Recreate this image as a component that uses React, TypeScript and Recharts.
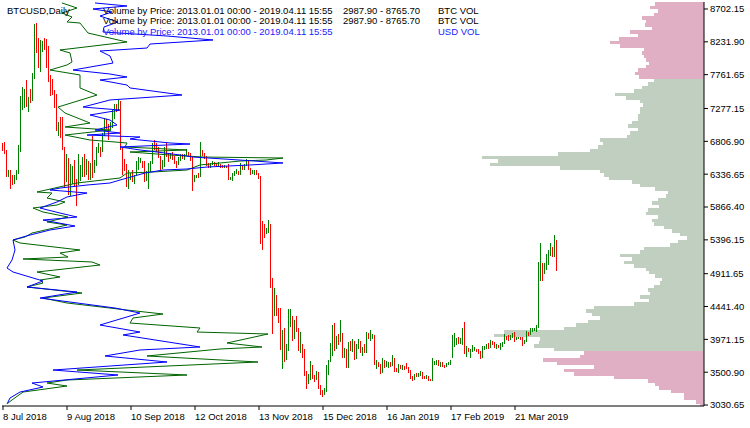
import { Bar, Cell, ComposedChart, ReferenceArea, Scatter, XAxis, YAxis } from 'recharts'

// day 0 = 8 Jul 2018, one bar per calendar day up to 11 Apr 2019
const dateTicks = [0, 32, 64, 96, 128, 160, 192, 224, 256]
const dateLabels = [
  '8 Jul 2018', '9 Aug 2018', '10 Sep 2018', '12 Oct 2018', '13 Nov 2018',
  '15 Dec 2018', '16 Jan 2019', '17 Feb 2019', '21 Mar 2019',
]
const priceTicks = [
  3030.65, 3500.9, 3971.15, 4441.4, 4911.65, 5396.15, 5866.4,
  6336.65, 6806.9, 7277.15, 7761.65, 8231.9, 8702.15,
]

const highs = [
  // Jul
  6790, 6800, 6680, 6400, 6390, 6330, 6320, 6400, 6750, 7450, 7580, 7550, 7680, 7440, 7560, 7780, 8480, 8500, 8290, 8260, 8240, 8290, 8270, 8170,
  // Aug
  7760, 7700, 7540, 7490, 7080, 7160, 7150, 6720, 6630, 6570, 6480, 6460, 6540, 6270, 6620, 6470, 6580, 6620, 6560, 6530, 6490, 6890, 6540, 6720, 6790, 6730, 6930, 7140, 7130, 7060, 7080,
  // Sep
  7260, 7340, 7340, 7400, 7390, 6710, 6550, 6480, 6400, 6360, 6400, 6330, 6530, 6580, 6570, 6530, 6530, 6380, 6500, 6530, 6790, 6830, 6780, 6720, 6590, 6540, 6720, 6780, 6640, 6640,
  // Oct
  6660, 6600, 6530, 6580, 6630, 6620, 6620, 6700, 6660, 6640, 6580, 6330, 6330, 6360, 6800, 6680, 6640, 6600, 6500, 6500, 6530, 6510, 6490, 6510, 6480, 6470, 6470, 6460, 6480, 6300, 6350,
  // Nov
  6380, 6410, 6380, 6490, 6470, 6480, 6560, 6540, 6420, 6400, 6400, 6400, 6360, 6310, 5660, 5620, 5560, 5680, 5620, 4850, 4700, 4610, 4420, 4420, 4100, 4140, 3900, 4400, 4400, 4300,
  // Dec
  4250, 4300, 4140, 4070, 3900, 3840, 3520, 3480, 3660, 3600, 3460, 3520, 3500, 3320, 3240, 3280, 3600, 3680, 3920, 4180, 4200, 4020, 4050, 4250, 4060, 3850, 3830, 3930, 3950, 3970, 3950,
  // Jan
  3900, 3980, 3950, 3860, 3900, 4080, 4060, 4110, 4050, 4040, 3680, 3650, 3620, 3700, 3680, 3660, 3650, 3650, 3750, 3700, 3560, 3620, 3600, 3600, 3590, 3630, 3580, 3530, 3440, 3480, 3490,
  // Feb
  3490, 3520, 3500, 3440, 3460, 3450, 3410, 3700, 3660, 3680, 3670, 3640, 3640, 3610, 3630, 3650, 3680, 4030, 4060, 3990, 4000, 3990, 4140, 4220, 3880, 3850, 3830, 3890,
  // Mar
  3860, 3840, 3830, 3800, 3880, 3880, 3900, 3920, 3960, 3950, 3930, 3900, 3890, 3920, 3930, 4050, 4020, 4040, 4040, 4060, 4070, 4010, 4010, 4010, 4000, 3960, 4090, 4080, 4140, 4140, 4130,
  // Apr
  4170, 5080, 5350, 5060, 5070, 5200, 5250, 5350, 5300, 5470, 5400,
]

const lows = [
  6670, 6630, 6300, 6290, 6130, 6180, 6200, 6250, 6340, 6660, 7250, 7290, 7300, 7220, 7350, 7380, 7700, 8070, 7850, 7800, 8080, 8110, 7860, 7650,
  7460, 7470, 7290, 6950, 6890, 6860, 6680, 6150, 6230, 6040, 6030, 6200, 6150, 5880, 6180, 6240, 6290, 6300, 6330, 6250, 6250, 6280, 6360, 6460, 6640, 6580, 6660, 6890, 6990, 6830, 6960,
  7000, 7130, 7220, 7240, 6680, 6330, 6380, 6160, 6130, 6250, 6220, 6200, 6320, 6400, 6490, 6430, 6230, 6240, 6120, 6370, 6480, 6680, 6660, 6570, 6390, 6410, 6440, 6580, 6510, 6560,
  6540, 6480, 6430, 6470, 6530, 6550, 6540, 6590, 6600, 6520, 6100, 6220, 6280, 6280, 6290, 6600, 6560, 6460, 6430, 6430, 6470, 6450, 6440, 6450, 6430, 6420, 6430, 6430, 6250, 6250, 6240,
  6310, 6340, 6330, 6320, 6390, 6400, 6460, 6390, 6320, 6340, 6320, 6330, 6270, 5330, 5250, 5420, 5480, 5500, 4700, 4050, 4300, 4310, 4200, 3820, 3550, 3650, 3680, 3800, 4150, 3950,
  3980, 4080, 3800, 3780, 3700, 3440, 3260, 3330, 3390, 3400, 3360, 3390, 3260, 3180, 3150, 3180, 3220, 3460, 3640, 3740, 3800, 3830, 3890, 3940, 3700, 3700, 3560, 3560, 3800, 3790, 3680,
  3690, 3840, 3770, 3740, 3780, 3770, 3970, 3950, 3970, 3600, 3550, 3570, 3480, 3490, 3560, 3570, 3560, 3580, 3590, 3500, 3510, 3490, 3540, 3530, 3530, 3550, 3490, 3400, 3370, 3390, 3430,
  3430, 3450, 3410, 3400, 3410, 3380, 3370, 3370, 3610, 3600, 3590, 3570, 3580, 3560, 3580, 3600, 3600, 3700, 3860, 3890, 3900, 3910, 3890, 3760, 3720, 3790, 3700, 3790,
  3810, 3790, 3760, 3690, 3700, 3820, 3840, 3830, 3850, 3890, 3850, 3830, 3850, 3820, 3860, 3900, 3960, 3950, 3960, 3990, 3940, 3960, 3970, 3960, 3880, 3900, 3930, 4020, 4030, 4070, 4090,
  4080, 4130, 4800, 4800, 4900, 4960, 5030, 5160, 5150, 5150, 4950,
]

// 1 = close above open (green bar), 0 = down day (red bar)
const upDays = [
  0, 0, 0, 1, 0, 0, 1, 1, 1, 1, 1, 1, 0, 1, 0, 1, 1, 0, 0, 1, 1, 0, 0, 0,
  0, 0, 0, 0, 1, 0, 0, 0, 1, 0, 1, 1, 0, 0, 1, 1, 1, 0, 1, 0, 1, 0, 1, 1, 1, 0, 1, 1, 0, 0, 1,
  1, 1, 0, 1, 0, 0, 0, 0, 1, 1, 0, 1, 1, 1, 1, 0, 0, 1, 1, 1, 1, 0, 0, 0, 0, 1, 1, 0, 0, 1,
  0, 0, 0, 1, 1, 0, 1, 1, 0, 0, 0, 1, 1, 0, 1, 0, 0, 0, 0, 1, 1, 0, 0, 1, 0, 0, 1, 0, 0, 1, 1,
  1, 1, 0, 1, 0, 1, 1, 0, 0, 1, 1, 0, 0, 0, 0, 0, 1, 1, 0, 0, 1, 0, 0, 0, 1, 0, 1, 1, 1, 0,
  1, 0, 0, 1, 0, 0, 0, 1, 1, 0, 0, 1, 0, 0, 0, 1, 1, 1, 1, 1, 0, 1, 0, 1, 0, 1, 0, 1, 0, 1, 0,
  1, 1, 0, 1, 0, 1, 0, 1, 1, 0, 1, 0, 0, 1, 0, 1, 1, 0, 1, 0, 0, 1, 0, 1, 0, 0, 0, 0, 0, 1, 0,
  1, 1, 0, 0, 1, 0, 0, 1, 1, 1, 0, 1, 0, 0, 1, 1, 1, 1, 1, 1, 0, 1, 1, 0, 1, 0, 1, 1,
  1, 0, 0, 0, 1, 1, 1, 0, 1, 0, 0, 1, 0, 1, 1, 1, 0, 0, 1, 1, 0, 1, 1, 0, 0, 1, 1, 0, 1, 1, 1,
  1, 1, 1, 0, 1, 1, 1, 1, 0, 1, 0,
]

// right-hand histogram: bin bottom price and BTC volume per 50 USD bin
const volLevels = [
  8750, 8700, 8650, 8600, 8550, 8500, 8450, 8400, 8350, 8300,
  8250, 8200, 8150, 8100, 8050, 8000, 7950, 7900, 7850, 7800,
  7750, 7700, 7650, 7600, 7550, 7500, 7450, 7400, 7350, 7300,
  7250, 7200, 7150, 7100, 7050, 7000, 6950, 6900, 6850, 6800,
  6750, 6700, 6650, 6600, 6550, 6500, 6450, 6400, 6350, 6300,
  6250, 6200, 6150, 6100, 6050, 6000, 5950, 5900, 5850, 5800,
  5750, 5700, 5650, 5600, 5550, 5500, 5450, 5400, 5350, 5300,
  5250, 5200, 5150, 5100, 5050, 5000, 4950, 4900, 4850, 4800,
  4750, 4700, 4650, 4600, 4550, 4500, 4450, 4400, 4350, 4300,
  4250, 4200, 4150, 4100, 4050, 4000, 3950, 3900, 3850, 3800,
  3750, 3700, 3650, 3600, 3550, 3500, 3450, 3400, 3350, 3300,
  3250, 3200, 3150, 3100, 3050, 3000,
]
const btcVol = [
  49, 54, 46, 50, 62, 58, 59, 52, 74, 66,
  85, 94, 84, 60, 62, 60, 58, 55, 58, 66,
  69, 65, 50, 56, 62, 70, 89, 78, 64, 61,
  64, 64, 66, 66, 72, 76, 66, 74, 77, 104,
  101, 106, 114, 146, 222, 206, 214, 144, 104, 100,
  95, 72, 64, 49, 36, 38, 46, 52, 45, 56,
  58, 46, 52, 50, 40, 32, 24, 17, 26, 34,
  60, 64, 84, 72, 80, 70, 58, 55, 49, 42,
  44, 50, 56, 54, 64, 55, 70, 110, 118, 112,
  104, 116, 128, 140, 200, 210, 164, 165, 170, 150,
  120, 124, 161, 147, 110, 140, 130, 90, 56, 49,
  45, 33, 20, 20, 8, 4,
]
const binSize = 50
const valueAreaLow = 3800
const valueAreaHigh = 7650

// left-hand profile lines (price level, volume)
const btcPrices = [
  8788, 8716, 8644, 8587, 8516, 8501, 8358, 8229, 8115, 8072,
  7943, 7900, 7828, 7757, 7571, 7470, 7298, 7212, 7069, 7012,
  6969, 6897, 6826, 6783, 6726, 6683, 6654, 6611, 6582, 6568,
  6539, 6525, 6468, 6396, 6368, 6353, 6282, 6210, 6081, 6067,
  5995, 5938, 5895, 5852, 5795, 5723, 5652, 5609, 5494, 5437,
  5394, 5351, 5251, 5208, 5150, 5122, 5079, 5036, 4936, 4864,
  4821, 4778, 4721, 4635, 4563, 4492, 4391, 4334, 4277, 4205,
  4134, 4076, 4048, 3919, 3862, 3833, 3733, 3647, 3532, 3461,
  3389, 3346, 3303, 3217, 3103, 3059,
]
const btcVols = [
  60, 75, 60, 70, 65, 78, 86, 125, 58, 68,
  70, 65, 48, 78, 78, 95, 56, 63, 88, 63,
  108, 63, 88, 125, 123, 185, 128, 168, 201, 281,
  264, 238, 198, 185, 151, 125, 118, 75, 35, 50,
  45, 63, 55, 31, 41, 66, 45, 65, 30, 23,
  11, 18, 78, 58, 66, 21, 90, 98, 35, 58,
  38, 41, 25, 80, 41, 65, 125, 161, 131, 128,
  198, 195, 266, 225, 260, 218, 145, 256, 75, 185,
  65, 45, 65, 21, 10, 6,
]
const usdPrices = [
  8788, 8745, 8702, 8659, 8601, 8516, 8444, 8372, 8315, 8258,
  8200, 8143, 8100, 8029, 7928, 7828, 7771, 7728, 7685, 7613,
  7571, 7470, 7399, 7298, 7255, 7184, 7112, 7041, 6969, 6926,
  6897, 6869, 6840, 6812, 6783, 6768, 6726, 6683, 6654, 6611,
  6582, 6539, 6497, 6468, 6439, 6411, 6396, 6353, 6253, 6210,
  6181, 6138, 6110, 6067, 6010, 5938, 5852, 5780, 5723, 5680,
  5594, 5537, 5465, 5437, 5394, 5251, 5107, 4993, 4936, 4850,
  4807, 4721, 4649, 4563, 4420, 4348, 4177, 4076, 4034, 3862,
  3819, 3733, 3647, 3532, 3461, 3346, 3289, 3217, 3131, 3045,
]
const usdVols = [
  93, 125, 91, 110, 98, 116, 102, 101, 165, 211,
  148, 145, 98, 108, 111, 71, 108, 125, 98, 125,
  128, 180, 108, 81, 118, 88, 108, 115, 93, 118,
  85, 138, 128, 148, 168, 188, 118, 138, 155, 178,
  191, 238, 281, 248, 205, 185, 161, 143, 118, 108,
  85, 58, 48, 85, 65, 55, 38, 58, 75, 41,
  73, 48, 28, 21, 11, 13, 10, 5, 11, 31,
  41, 25, 75, 38, 113, 138, 98, 138, 121, 198,
  138, 103, 165, 51, 116, 30, 41, 18, 8, 5,
]

const FONT = '"Liberation Sans", Arial, sans-serif'
const PRICE_DOMAIN: [number, number] = [3017, 8802]
const TICK = { fontSize: 9.5, fill: '#000', fontFamily: FONT } as const
const UP = '#008000'
const DOWN = '#ff0000'
const PINK = '#e1afc3'
const GREY = '#c1cfc1'

const noDot = () => null

function Txt(props: { x: number; y: number; color?: string; children: string }) {
  return (
    <span
      style={{
        position: 'absolute',
        left: props.x,
        top: props.y - 8,
        fontSize: 9.5,
        lineHeight: 1,
        whiteSpace: 'pre',
        color: props.color ?? '#000',
      }}
    >
      {props.children}
    </span>
  )
}

export default function App() {
  const bars = highs.map((h, i) => ({ d: i, hl: [lows[i], h], up: upDays[i] }))
  const btcLine = btcPrices.map((p, i) => ({ p, v: btcVols[i] }))
  const usdLine = usdPrices.map((p, i) => ({ p, v: usdVols[i] }))

  return (
    <div
      style={{
        position: 'absolute',
        left: 0,
        top: 0,
        width: 750,
        height: 428,
        background: '#fff',
        fontFamily: FONT,
        overflow: 'hidden',
      }}
    >
      <ComposedChart width={750} height={428} data={bars} margin={{ top: 2, right: 0, bottom: 0, left: 2 }}>
        <XAxis
          dataKey="d"
          type="number"
          domain={[-0.5, 350.5]}
          ticks={dateTicks}
          interval={0}
          tickFormatter={(v: number) => dateLabels[dateTicks.indexOf(v)] ?? ''}
          height={22}
          tickSize={4}
          tickMargin={3}
          stroke="#000"
          tick={{ ...TICK, textAnchor: 'start' }}
          allowDataOverflow
        />
        <XAxis xAxisId="top" orientation="top" type="number" domain={[0, 1]} height={0} tick={false} tickLine={false} stroke="#000" />
        {/* histogram axis: volume grows leftwards from the price scale */}
        <XAxis xAxisId="vol" dataKey="w" type="number" domain={[-702, 0]} hide allowDataOverflow />
        <XAxis xAxisId="prof" dataKey="v" type="number" domain={[0, 702]} hide allowDataOverflow />
        <YAxis
          orientation="right"
          type="number"
          domain={PRICE_DOMAIN}
          ticks={priceTicks}
          interval={0}
          tickFormatter={(v: number) => v.toFixed(2)}
          width={46}
          tickSize={4}
          tickMargin={2}
          stroke="#000"
          tick={TICK}
          allowDataOverflow
        />
        <YAxis yAxisId="frame" orientation="left" type="number" domain={[0, 1]} width={0} tick={false} tickLine={false} stroke="#000" />
        <YAxis yAxisId="profY" dataKey="p" type="number" domain={PRICE_DOMAIN} hide allowDataOverflow />

        {volLevels.map((p, i) => (
          <ReferenceArea
            key={p}
            xAxisId="vol"
            x1={-btcVol[i]}
            x2={0}
            y1={p}
            y2={p + binSize}
            fill={p > valueAreaHigh || p < valueAreaLow ? PINK : GREY}
            fillOpacity={1}
            stroke="none"
            shapeRendering="crispEdges"
            ifOverflow="hidden"
          />
        ))}

        <Bar dataKey="hl" barSize={1} isAnimationActive={false} shapeRendering="crispEdges">
          {bars.map((b) => (
            <Cell key={b.d} fill={b.up ? UP : DOWN} />
          ))}
        </Bar>

        <Scatter
          data={btcLine}
          xAxisId="prof"
          yAxisId="profY"
          line={{ stroke: '#006400', strokeWidth: 1 }}
          lineType="joint"
          shape={noDot}
          isAnimationActive={false}
        />
        <Scatter
          data={usdLine}
          xAxisId="prof"
          yAxisId="profY"
          line={{ stroke: '#0000ff', strokeWidth: 1 }}
          lineType="joint"
          shape={noDot}
          isAnimationActive={false}
        />
      </ComposedChart>

      <Txt x={7} y={14}>BTCUSD,Daily</Txt>
      <Txt x={103} y={13.5}>Volume by Price: 2013.01.01 00:00 - 2019.04.11 15:55</Txt>
      <Txt x={343} y={13.5}>2987.90 - 8765.70</Txt>
      <Txt x={438} y={13.5}>BTC VOL</Txt>
      <Txt x={103} y={24}>Volume by Price: 2013.01.01 00:00 - 2019.04.11 15:55</Txt>
      <Txt x={343} y={24}>2987.90 - 8765.70</Txt>
      <Txt x={438} y={24}>BTC VOL</Txt>
      <Txt x={103} y={34.5} color="#1a1aff">Volume by Price: 2013.01.01 00:00 - 2019.04.11 15:55</Txt>
      <Txt x={438} y={34.5} color="#1a1aff">USD VOL</Txt>
    </div>
  )
}
